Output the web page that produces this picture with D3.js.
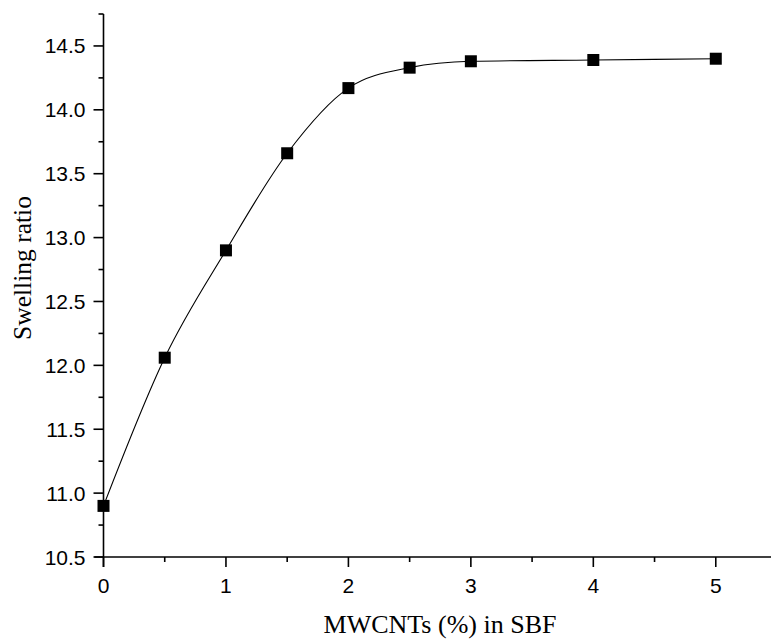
<!DOCTYPE html>
<html>
<head>
<meta charset="utf-8">
<script src="https://cdn.jsdelivr.net/npm/d3@7"></script>
<style>
  body { margin: 0; background: #fff; }
  .tick text { font-family: "Liberation Sans", Arial, sans-serif; }
</style>
</head>
<body>
<div id="chart"></div>
<script>
// MWCNTs content (%) and swelling ratio in SBF
var mwcnt = [0, 0.5, 1, 1.5, 2, 2.5, 3, 4, 5];
var swelling = [10.9, 12.06, 12.9, 13.66, 14.17, 14.33, 14.38, 14.39, 14.40];
var xTicks = [0, 1, 2, 3, 4, 5];
var yTicks = [10.5, 11.0, 11.5, 12.0, 12.5, 13.0, 13.5, 14.0, 14.5];

var W = 771, H = 640;
var svg = d3.select("#chart").append("svg").attr("width", W).attr("height", H);

var x = d3.scaleLinear().domain([0, 5.5]).range([103.5, 777]);
var y = d3.scaleLinear().domain([10.5, 14.75]).range([557, 14]);

// minor ticks
var xMinor = d3.range(0.5, 5.5, 1);
var yMinor = d3.range(10.75, 14.8, 0.5);

var gx = svg.append("g").attr("transform", "translate(0," + y(10.5) + ")");
gx.append("line").attr("x1", x(0) - 9).attr("x2", W + 10).attr("stroke", "#000").attr("stroke-width", 1.6);
gx.selectAll(".minor").data(xMinor).enter().append("line")
  .attr("x1", function (d) { return x(d); }).attr("x2", function (d) { return x(d); })
  .attr("y1", 0).attr("y2", 5).attr("stroke", "#000").attr("stroke-width", 1.6);
gx.selectAll(".major").data(xTicks).enter().append("line")
  .attr("x1", function (d) { return x(d); }).attr("x2", function (d) { return x(d); })
  .attr("y1", 0).attr("y2", 10).attr("stroke", "#000").attr("stroke-width", 1.6);
gx.selectAll("text").data(xTicks).enter().append("text")
  .attr("x", function (d) { return x(d); }).attr("y", 36)
  .attr("text-anchor", "middle")
  .style("font-family", "'Liberation Sans', Arial, sans-serif").style("font-size", "21px")
  .text(function (d) { return d; });

var gy = svg.append("g").attr("transform", "translate(" + x(0) + ",0)");
gy.append("line").attr("y1", y(14.75)).attr("y2", y(10.5) + 10).attr("stroke", "#000").attr("stroke-width", 1.6);
gy.selectAll(".minor").data(yMinor).enter().append("line")
  .attr("y1", function (d) { return y(d); }).attr("y2", function (d) { return y(d); })
  .attr("x1", -5).attr("x2", 0).attr("stroke", "#000").attr("stroke-width", 1.6);
gy.selectAll(".major").data(yTicks).enter().append("line")
  .attr("y1", function (d) { return y(d); }).attr("y2", function (d) { return y(d); })
  .attr("x1", -10).attr("x2", 0).attr("stroke", "#000").attr("stroke-width", 1.6);
gy.selectAll("text").data(yTicks).enter().append("text")
  .attr("x", -18).attr("y", function (d) { return y(d) + 7.5; })
  .attr("text-anchor", "end")
  .style("font-family", "'Liberation Sans', Arial, sans-serif").style("font-size", "21px")
  .text(function (d) { return d.toFixed(1); });

// axis titles
svg.append("text").attr("x", 440).attr("y", 633).attr("text-anchor", "middle")
  .style("font-family", "'Liberation Serif', 'Times New Roman', serif").style("font-size", "26px")
  .text("MWCNTs (%) in SBF");
svg.append("text").attr("transform", "translate(31,268) rotate(-90)").attr("text-anchor", "middle")
  .style("font-family", "'Liberation Serif', 'Times New Roman', serif").style("font-size", "25.5px")
  .text("Swelling ratio");

// smooth curve through points
var pts = mwcnt.map(function (d, i) { return [d, swelling[i]]; });
var line = d3.line()
  .x(function (d) { return x(d[0]); })
  .y(function (d) { return y(d[1]); })
  .curve(d3.curveMonotoneX);
svg.append("path").datum(pts).attr("d", line)
  .attr("fill", "none").attr("stroke", "#000").attr("stroke-width", 1.1);

var ms = 12;
svg.selectAll(".pt").data(pts).enter().append("rect")
  .attr("x", function (d) { return x(d[0]) - ms / 2; })
  .attr("y", function (d) { return y(d[1]) - ms / 2; })
  .attr("width", ms).attr("height", ms).attr("fill", "#000");
</script>
</body>
</html>
